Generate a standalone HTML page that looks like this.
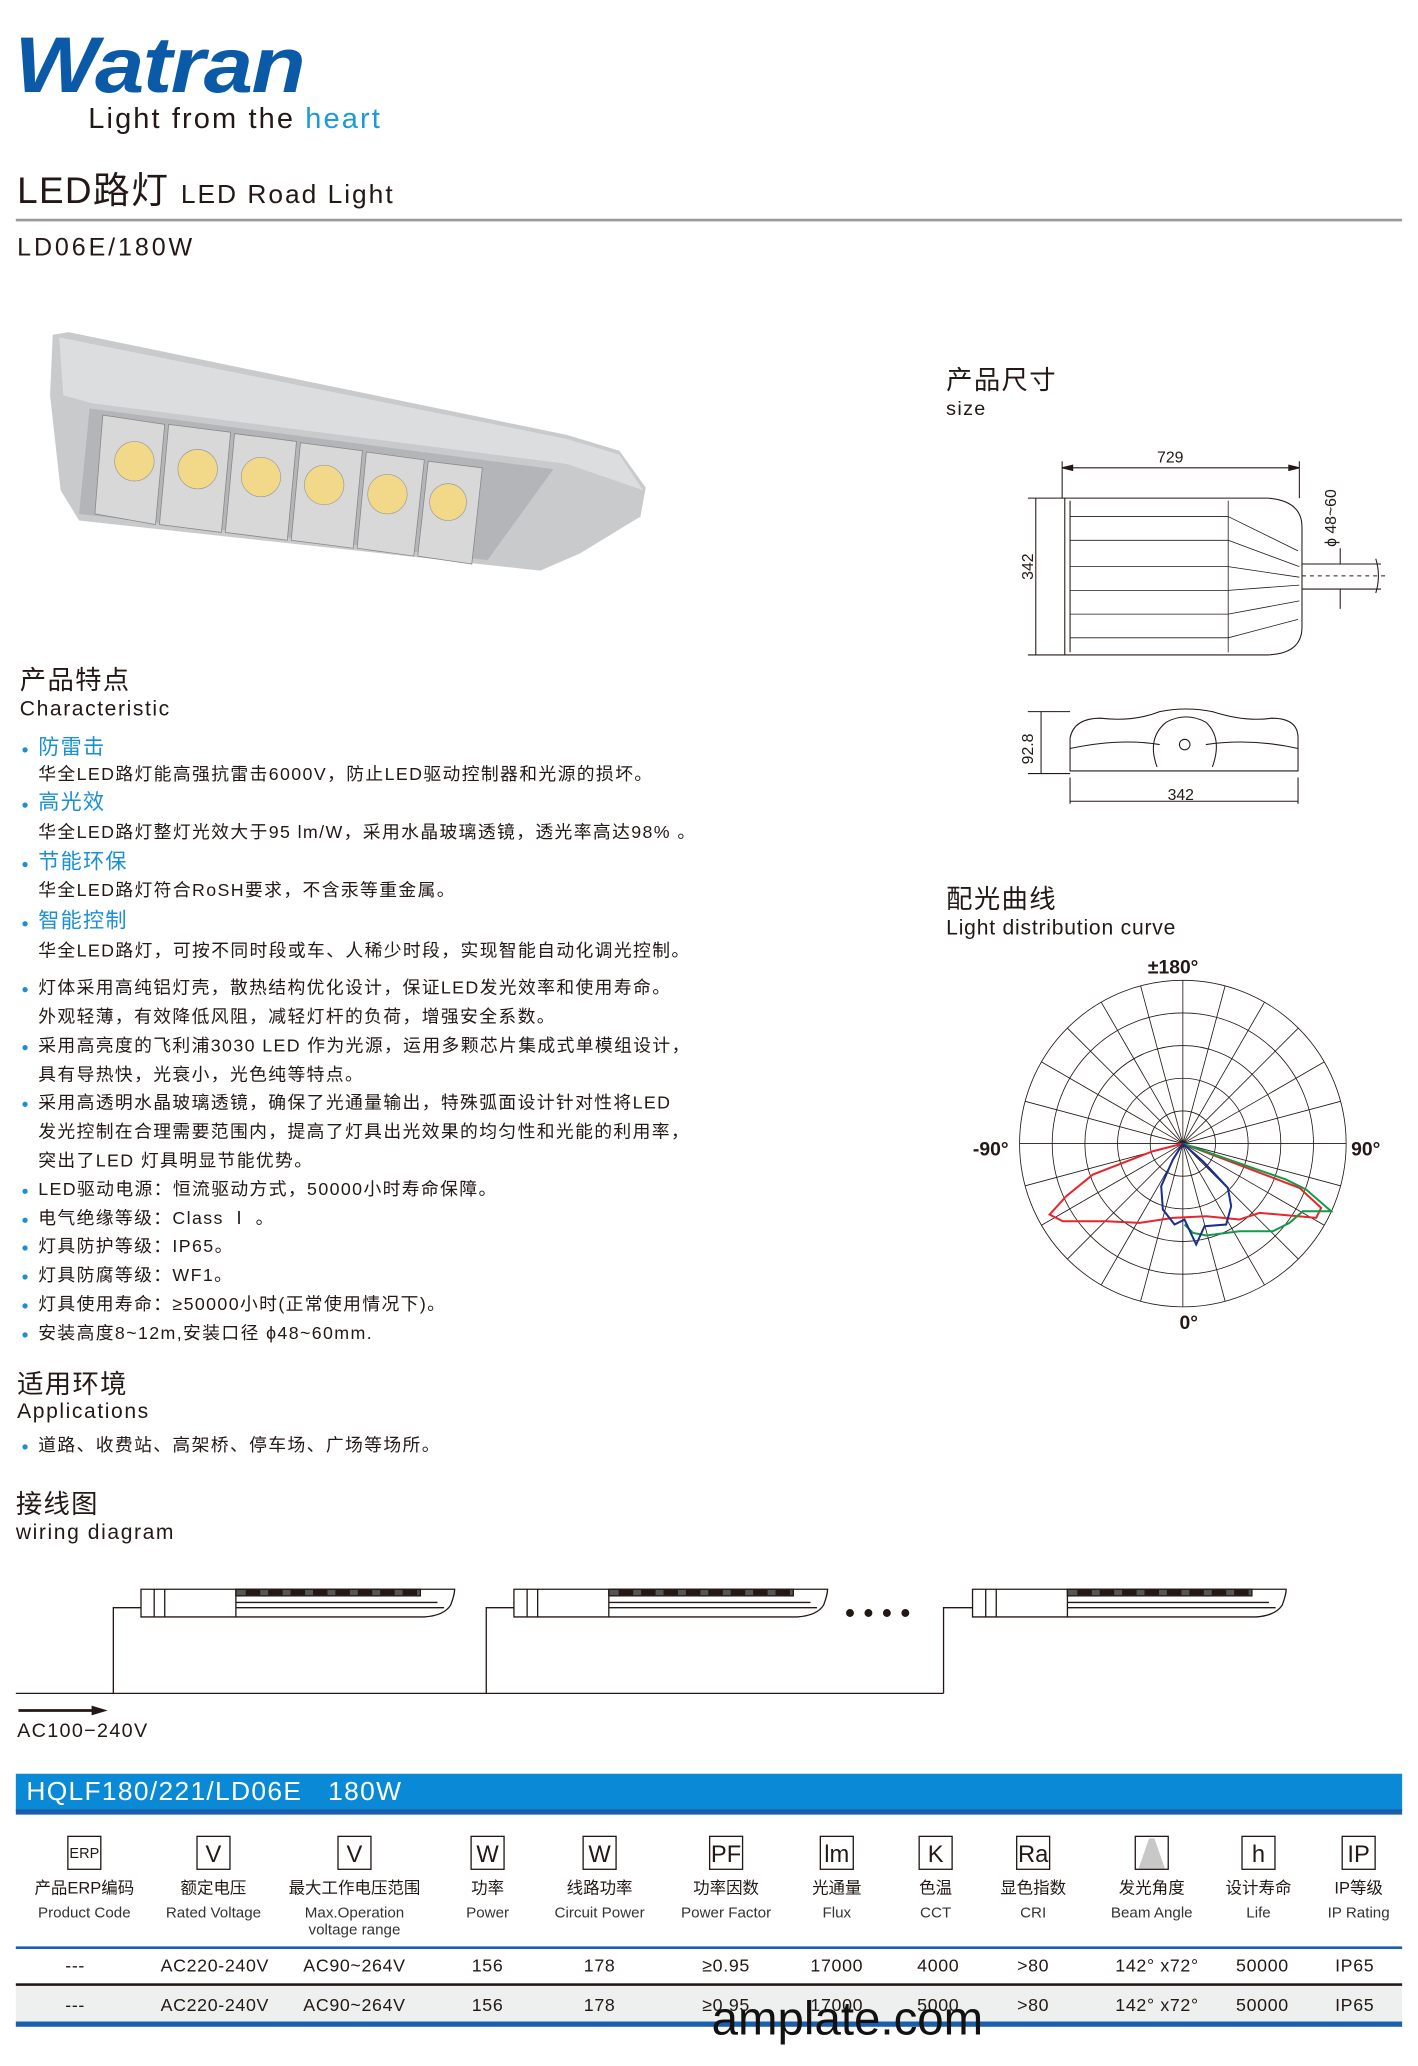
<!DOCTYPE html>
<html><head><meta charset="utf-8"><style>
html,body{margin:0;padding:0;background:#fff;}
body{width:1418px;height:2066px;overflow:hidden;position:relative;}
#c{position:absolute;left:0;top:0;width:1076px;height:1568px;transform:scale(1.3178,1.3178);transform-origin:0 0;font-family:"Liberation Sans","Noto Sans CJK SC",sans-serif;color:#231815;}
.a{position:absolute;white-space:nowrap;line-height:1;}
.b{color:#1a8fd6;}
.dot{position:absolute;width:4px;height:4px;border-radius:2px;background:#1a8fd6;}
.t14{font-size:13.5px;letter-spacing:1.05px;}
.ic{position:absolute;top:1393px;width:26px;height:26px;border:1px solid #231815;box-sizing:border-box;text-align:center;font-size:18px;line-height:26px;}
.hl{position:absolute;text-align:center;width:110px;font-size:12.5px;line-height:1;}
.el{position:absolute;text-align:center;width:110px;font-size:11.5px;line-height:1.1;color:#333;}
.rv{position:absolute;text-align:center;width:110px;font-size:13.5px;line-height:1;letter-spacing:0.5px;}
</style></head><body><div id="c">
<div class="a" style="left:11px;top:20px;font-size:60px;font-weight:bold;font-style:italic;color:#0a5aa8;letter-spacing:-1px;transform:scaleX(1.12);transform-origin:0 0;">Watran</div>
<div class="a" style="left:67px;top:79px;font-size:22px;letter-spacing:1.6px;">Light from the <span style="color:#1a9ad6">heart</span></div>
<div class="a" style="left:13px;top:131px;font-size:28px;letter-spacing:1px;">LED路灯 <span style="font-size:20px;letter-spacing:1.5px">LED Road Light</span></div>
<div style="position:absolute;left:12px;top:166px;width:1052px;height:2px;background:#9a9a9a"></div>
<div class="a" style="left:13px;top:179px;font-size:19px;letter-spacing:2.2px;">LD06E/180W</div>

<svg style="position:absolute;left:0;top:240px" width="520" height="210" viewBox="0 240 520 210">
<polygon points="40,254 52,252 430,330 470,342 490,370 486,392 440,420 410,433 60,395 46,372 38,300" fill="#c9cacc"/>
<polygon points="45,256 430,333 470,345 488,372 430,352 70,306 48,300" fill="#dcdddf"/>
<polygon points="68,310 420,356 370,425 60,390" fill="#b4b5b8"/>
<g fill="#d8d8d8" stroke="#888" stroke-width="0.6">
<polygon points="78,315 125,322 118,398 72,390"/><polygon points="128,322 175,328 168,404 121,398"/>
<polygon points="178,329 225,335 218,410 171,404"/><polygon points="228,336 275,342 268,416 221,410"/>
<polygon points="278,343 322,349 314,422 271,416"/><polygon points="325,350 366,355 358,428 317,422"/>
</g>
<g fill="#f2d98a" stroke="#999" stroke-width="0.5">
<circle cx="102" cy="350" r="15"/><circle cx="150" cy="356" r="15"/><circle cx="198" cy="362" r="15"/>
<circle cx="246" cy="368" r="15"/><circle cx="294" cy="375" r="15"/><circle cx="340" cy="381" r="14"/>
</g>
</svg>

<div class="a" style="left:718px;top:279px;font-size:20px;letter-spacing:1px;">产品尺寸</div>
<div class="a" style="left:718px;top:303px;font-size:15px;letter-spacing:1px;">size</div>
<svg style="position:absolute;left:770px;top:330px" width="300" height="290" viewBox="770 330 300 290" fill="none" stroke="#231815" stroke-width="0.8">
<line x1="806" y1="350" x2="806" y2="378"/><line x1="986" y1="350" x2="986" y2="378"/>
<line x1="806" y1="355" x2="986" y2="355"/><polygon points="806,355 814,353 814,357" fill="#231815"/><polygon points="986,355 978,353 978,357" fill="#231815"/>
<line x1="780" y1="378" x2="808" y2="378"/><line x1="780" y1="497" x2="808" y2="497"/>
<line x1="786" y1="378" x2="786" y2="497"/>
<path d="M808 378 H962 Q988 380 988 400 V476 Q988 496 962 497 H808 Z"/>
<line x1="812" y1="380" x2="812" y2="495"/>
<g stroke-width="0.6"><line x1="812" y1="392" x2="932" y2="392"/><line x1="812" y1="410" x2="932" y2="410"/><line x1="812" y1="430" x2="932" y2="430"/><line x1="812" y1="448" x2="932" y2="448"/><line x1="812" y1="466" x2="932" y2="466"/><line x1="812" y1="484" x2="932" y2="484"/>
<line x1="932" y1="380" x2="932" y2="495"/>
<line x1="932" y1="392" x2="985" y2="418"/><line x1="932" y1="410" x2="986" y2="430"/><line x1="932" y1="430" x2="986" y2="438"/><line x1="932" y1="448" x2="986" y2="444"/><line x1="932" y1="466" x2="986" y2="456"/><line x1="932" y1="484" x2="985" y2="470"/></g>
<path d="M988 428 H1048 M988 447 H1048 M1044 424 Q1048 437 1044 450"/>
<line x1="988" y1="437" x2="1052" y2="437" stroke-dasharray="3,3"/>
<line x1="1017" y1="416" x2="1017" y2="428"/><line x1="1017" y1="447" x2="1017" y2="462"/>
<line x1="812" y1="610" x2="812" y2="590"/><line x1="985" y1="610" x2="985" y2="590"/><line x1="812" y1="608" x2="985" y2="608"/>
<line x1="780" y1="540" x2="812" y2="540"/><line x1="780" y1="587" x2="812" y2="587"/><line x1="790" y1="540" x2="790" y2="587"/>
<path d="M812 585 V560 Q815 545 835 545 Q860 548 880 540 Q900 536 920 540 Q945 548 965 545 Q985 545 985 560 V585 Z"/>
<path d="M812 568 Q850 560 880 565 M915 565 Q950 560 985 568"/>
<path d="M878 582 Q870 560 885 548 Q900 540 915 548 Q928 560 920 582"/>
<circle cx="899" cy="565" r="4"/>
</svg>
<div class="a" style="left:878px;top:341px;font-size:12px;">729</div>
<div class="a" style="left:774px;top:440px;font-size:12px;transform:rotate(-90deg);transform-origin:0 0;">342</div>
<div class="a" style="left:1004px;top:415px;font-size:12px;transform:rotate(-90deg);transform-origin:0 0;">ϕ 48~60</div>
<div class="a" style="left:774px;top:580px;font-size:12px;transform:rotate(-90deg);transform-origin:0 0;">92.8</div>
<div class="a" style="left:886px;top:597px;font-size:12px;">342</div>

<div class="a" style="left:718px;top:673px;font-size:20px;letter-spacing:1px;">配光曲线</div>
<div class="a" style="left:718px;top:697px;font-size:16px;letter-spacing:0.6px;">Light distribution curve</div>
<svg style="position:absolute;left:713.2px;top:713.3px" width="333.8" height="303.5" viewBox="0 0 1320 1200">
<g fill="none" stroke="#231815" stroke-width="2.5">
<circle cx="730" cy="612" r="98"/><circle cx="730" cy="612" r="196"/><circle cx="730" cy="612" r="294"/><circle cx="730" cy="612" r="392"/><circle cx="730" cy="612" r="490"/>
<line x1="730" y1="122" x2="730" y2="1102"/>
<line x1="730" y1="612" x2="730" y2="122" transform="rotate(15 730 612)"/><line x1="730" y1="612" x2="730" y2="122" transform="rotate(30 730 612)"/><line x1="730" y1="612" x2="730" y2="122" transform="rotate(45 730 612)"/><line x1="730" y1="612" x2="730" y2="122" transform="rotate(60 730 612)"/><line x1="730" y1="612" x2="730" y2="122" transform="rotate(75 730 612)"/><line x1="730" y1="612" x2="730" y2="122" transform="rotate(90 730 612)"/><line x1="730" y1="612" x2="730" y2="122" transform="rotate(105 730 612)"/><line x1="730" y1="612" x2="730" y2="122" transform="rotate(120 730 612)"/><line x1="730" y1="612" x2="730" y2="122" transform="rotate(135 730 612)"/><line x1="730" y1="612" x2="730" y2="122" transform="rotate(150 730 612)"/><line x1="730" y1="612" x2="730" y2="122" transform="rotate(165 730 612)"/>
<line x1="730" y1="612" x2="730" y2="122" transform="rotate(-15 730 612)"/><line x1="730" y1="612" x2="730" y2="122" transform="rotate(-30 730 612)"/><line x1="730" y1="612" x2="730" y2="122" transform="rotate(-45 730 612)"/><line x1="730" y1="612" x2="730" y2="122" transform="rotate(-60 730 612)"/><line x1="730" y1="612" x2="730" y2="122" transform="rotate(-75 730 612)"/><line x1="730" y1="612" x2="730" y2="122" transform="rotate(-90 730 612)"/><line x1="730" y1="612" x2="730" y2="122" transform="rotate(-105 730 612)"/><line x1="730" y1="612" x2="730" y2="122" transform="rotate(-120 730 612)"/><line x1="730" y1="612" x2="730" y2="122" transform="rotate(-135 730 612)"/><line x1="730" y1="612" x2="730" y2="122" transform="rotate(-150 730 612)"/><line x1="730" y1="612" x2="730" y2="122" transform="rotate(-165 730 612)"/>
</g>
<g fill="none" stroke-width="6">
<polyline stroke="#e8252b" points="730,612 640,635 460,705 380,770 330,825 370,845 500,845 600,850 700,835 800,830 900,840 960,820 1130,835 1145,805 1080,745 730,612"/>
<polyline stroke="#129a48" points="730,612 1040,720 1100,750 1175,815 1090,815 1050,850 1000,875 900,875 800,888 760,880 735,855"/>
<polyline stroke="#1a2e8c" points="730,612 700,660 665,740 670,810 705,855 735,840 770,915 795,860 860,855 875,800 865,745 790,665 730,612"/>
</g>
<g font-family="Liberation Sans,sans-serif" font-weight="bold" font-size="58" fill="#231815">
<text x="625" y="102">±180°</text><text x="100" y="648">-90°</text><text x="1235" y="648">90°</text><text x="720" y="1168">0°</text>
</g>
</svg>

<div class="a" style="left:15px;top:507px;font-size:20px;letter-spacing:1px;">产品特点</div>
<div class="a" style="left:15px;top:531px;font-size:16px;letter-spacing:1.2px;">Characteristic</div>
<div class="dot" style="left:17px;top:567px"></div><div class="a b" style="left:29px;top:560px;font-size:16px;letter-spacing:1px;">防雷击</div>
<div class="a t14" style="left:29px;top:581px;">华全LED路灯能高强抗雷击6000V，防止LED驱动控制器和光源的损坏。</div>
<div class="dot" style="left:17px;top:609px"></div><div class="a b" style="left:29px;top:602px;font-size:16px;letter-spacing:1px;">高光效</div>
<div class="a t14" style="left:29px;top:625px;">华全LED路灯整灯光效大于95 lm/W，采用水晶玻璃透镜，透光率高达98% 。</div>
<div class="dot" style="left:17px;top:654px"></div><div class="a b" style="left:29px;top:647px;font-size:16px;letter-spacing:1px;">节能环保</div>
<div class="a t14" style="left:29px;top:669px;">华全LED路灯符合RoSH要求，不含汞等重金属。</div>
<div class="dot" style="left:17px;top:699px"></div><div class="a b" style="left:29px;top:692px;font-size:16px;letter-spacing:1px;">智能控制</div>
<div class="a t14" style="left:29px;top:715px;">华全LED路灯，可按不同时段或车、人稀少时段，实现智能自动化调光控制。</div>

<div class="dot" style="left:17px;top:749px"></div><div class="a t14" style="left:29px;top:743px;">灯体采用高纯铝灯壳，散热结构优化设计，保证LED发光效率和使用寿命。</div>
<div class="a t14" style="left:29px;top:765px;">外观轻薄，有效降低风阻，减轻灯杆的负荷，增强安全系数。</div>
<div class="dot" style="left:17px;top:793px"></div><div class="a t14" style="left:29px;top:787px;">采用高亮度的飞利浦3030 LED 作为光源，运用多颗芯片集成式单模组设计，</div>
<div class="a t14" style="left:29px;top:809px;">具有导热快，光衰小，光色纯等特点。</div>
<div class="dot" style="left:17px;top:836px"></div><div class="a t14" style="left:29px;top:830px;">采用高透明水晶玻璃透镜，确保了光通量输出，特殊弧面设计针对性将LED</div>
<div class="a t14" style="left:29px;top:852px;">发光控制在合理需要范围内，提高了灯具出光效果的均匀性和光能的利用率，</div>
<div class="a t14" style="left:29px;top:874px;">突出了LED 灯具明显节能优势。</div>
<div class="dot" style="left:17px;top:902px"></div><div class="a t14" style="left:29px;top:896px;">LED驱动电源：恒流驱动方式，50000小时寿命保障。</div>
<div class="dot" style="left:17px;top:924px"></div><div class="a t14" style="left:29px;top:918px;">电气绝缘等级：Class Ⅰ 。</div>
<div class="dot" style="left:17px;top:945px"></div><div class="a t14" style="left:29px;top:939px;">灯具防护等级：IP65。</div>
<div class="dot" style="left:17px;top:967px"></div><div class="a t14" style="left:29px;top:961px;">灯具防腐等级：WF1。</div>
<div class="dot" style="left:17px;top:989px"></div><div class="a t14" style="left:29px;top:983px;">灯具使用寿命：≥50000小时(正常使用情况下)。</div>
<div class="dot" style="left:17px;top:1011px"></div><div class="a t14" style="left:29px;top:1005px;">安装高度8~12m,安装口径 ϕ48~60mm.</div>

<div class="a" style="left:13px;top:1041px;font-size:20px;letter-spacing:1px;">适用环境</div>
<div class="a" style="left:13px;top:1064px;font-size:16px;letter-spacing:1.2px;">Applications</div>
<div class="dot" style="left:17px;top:1096px"></div><div class="a t14" style="left:29px;top:1090px;">道路、收费站、高架桥、停车场、广场等场所。</div>

<div class="a" style="left:12px;top:1132px;font-size:20px;letter-spacing:1px;">接线图</div>
<div class="a" style="left:12px;top:1156px;font-size:16px;letter-spacing:1.2px;">wiring diagram</div>
<svg style="position:absolute;left:0;top:1195px" width="1076" height="130" viewBox="0 1195 1076 130" fill="none" stroke="#231815" stroke-width="1">
<defs><g id="lp">
<path d="M0 10 H238 Q238 14 235 22 Q230 30 215 31 H0 Z" fill="#fff"/>
<line x1="10" y1="10" x2="10" y2="31"/><line x1="18" y1="10" x2="18" y2="31"/><line x1="72" y1="10" x2="72" y2="31"/>
<rect x="72" y="10" width="140" height="5" fill="#555"/>
<g fill="#231815"><rect x="80" y="11" width="10" height="3"/><rect x="97" y="11" width="10" height="3"/><rect x="114" y="11" width="10" height="3"/><rect x="131" y="11" width="10" height="3"/><rect x="148" y="11" width="10" height="3"/><rect x="165" y="11" width="10" height="3"/><rect x="182" y="11" width="10" height="3"/><rect x="199" y="11" width="10" height="3"/></g>
<line x1="72" y1="20" x2="225" y2="20"/><line x1="72" y1="24" x2="230" y2="24"/>
</g></defs>
<use href="#lp" x="107" y="1196"/><use href="#lp" x="390" y="1196"/><use href="#lp" x="738" y="1196"/>
<polyline points="12,1285 716,1285"/>
<polyline points="86,1285 86,1220 107,1220"/><polyline points="369,1285 369,1220 390,1220"/><polyline points="716,1285 716,1220 738,1220"/>
<line x1="14" y1="1298" x2="72" y2="1298" stroke-width="2"/><polygon points="80,1298 70,1295 70,1301" fill="#231815"/>
<g fill="#231815" stroke="none"><circle cx="645" cy="1224" r="3"/><circle cx="659" cy="1224" r="3"/><circle cx="673" cy="1224" r="3"/><circle cx="687" cy="1224" r="3"/></g>
</svg>
<div class="a" style="left:13px;top:1306px;font-size:15px;letter-spacing:1px;">AC100−240V</div>

<div style="position:absolute;left:12px;top:1346px;width:1052px;height:28px;background:#0a8ad6"></div>
<div style="position:absolute;left:12px;top:1373px;width:1052px;height:4px;background:#1a5fae"></div>
<div class="a" style="left:20px;top:1350px;font-size:20px;color:#fff;letter-spacing:1px;">HQLF180/221/LD06E &nbsp;&nbsp;180W</div>

<div class="ic" style="left:51px;font-size:11px;">ERP</div>
<div class="ic" style="left:149px;">V</div>
<div class="ic" style="left:256px;">V</div>
<div class="ic" style="left:357px;">W</div>
<div class="ic" style="left:442px;">W</div>
<div class="ic" style="left:538px;">PF</div>
<div class="ic" style="left:622px;">lm</div>
<div class="ic" style="left:697px;">K</div>
<div class="ic" style="left:771px;">Ra</div>
<div class="ic" style="left:861px;"><svg width="24" height="24" style="position:absolute;left:0;top:0"><polygon points="10,1 14,1 22,24 2,24" fill="#c8c8c8"/></svg></div>
<div class="ic" style="left:942px;">h</div>
<div class="ic" style="left:1018px;">IP</div>

<div class="hl" style="left:9px;top:1427px">产品ERP编码</div><div class="el" style="left:9px;top:1446px">Product Code</div>
<div class="hl" style="left:107px;top:1427px">额定电压</div><div class="el" style="left:107px;top:1446px">Rated Voltage</div>
<div class="hl" style="left:214px;top:1427px">最大工作电压范围</div><div class="el" style="left:214px;top:1446px">Max.Operation<br>voltage range</div>
<div class="hl" style="left:315px;top:1427px">功率</div><div class="el" style="left:315px;top:1446px">Power</div>
<div class="hl" style="left:400px;top:1427px">线路功率</div><div class="el" style="left:400px;top:1446px">Circuit Power</div>
<div class="hl" style="left:496px;top:1427px">功率因数</div><div class="el" style="left:496px;top:1446px">Power Factor</div>
<div class="hl" style="left:580px;top:1427px">光通量</div><div class="el" style="left:580px;top:1446px">Flux</div>
<div class="hl" style="left:655px;top:1427px">色温</div><div class="el" style="left:655px;top:1446px">CCT</div>
<div class="hl" style="left:729px;top:1427px">显色指数</div><div class="el" style="left:729px;top:1446px">CRI</div>
<div class="hl" style="left:819px;top:1427px">发光角度</div><div class="el" style="left:819px;top:1446px">Beam Angle</div>
<div class="hl" style="left:900px;top:1427px">设计寿命</div><div class="el" style="left:900px;top:1446px">Life</div>
<div class="hl" style="left:976px;top:1427px">IP等级</div><div class="el" style="left:976px;top:1446px">IP Rating</div>

<div style="position:absolute;left:12px;top:1477px;width:1052px;height:1.5px;background:#1a5fae"></div>
<div style="position:absolute;left:12px;top:1505px;width:1052px;height:1.5px;background:#231815"></div>
<div style="position:absolute;left:12px;top:1507px;width:1052px;height:28px;background:#eeefef"></div>
<div style="position:absolute;left:12px;top:1534px;width:1052px;height:4px;background:#1a5fae"></div>

<div class="rv" style="left:2px;top:1485px">---</div><div class="rv" style="left:108px;top:1485px">AC220-240V</div><div class="rv" style="left:214px;top:1485px">AC90~264V</div><div class="rv" style="left:315px;top:1485px">156</div><div class="rv" style="left:400px;top:1485px">178</div><div class="rv" style="left:496px;top:1485px">≥0.95</div><div class="rv" style="left:580px;top:1485px">17000</div><div class="rv" style="left:657px;top:1485px">4000</div><div class="rv" style="left:729px;top:1485px">&gt;80</div><div class="rv" style="left:823px;top:1485px">142° x72°</div><div class="rv" style="left:903px;top:1485px">50000</div><div class="rv" style="left:973px;top:1485px">IP65</div>
<div class="rv" style="left:2px;top:1515px">---</div><div class="rv" style="left:108px;top:1515px">AC220-240V</div><div class="rv" style="left:214px;top:1515px">AC90~264V</div><div class="rv" style="left:315px;top:1515px">156</div><div class="rv" style="left:400px;top:1515px">178</div><div class="rv" style="left:496px;top:1515px">≥0.95</div><div class="rv" style="left:580px;top:1515px">17000</div><div class="rv" style="left:657px;top:1515px">5000</div><div class="rv" style="left:729px;top:1515px">&gt;80</div><div class="rv" style="left:823px;top:1515px">142° x72°</div><div class="rv" style="left:903px;top:1515px">50000</div><div class="rv" style="left:973px;top:1515px">IP65</div>
<div class="a" style="left:540px;top:1514px;font-size:36px;color:#111;">amplate.com</div>
</div></body></html>
